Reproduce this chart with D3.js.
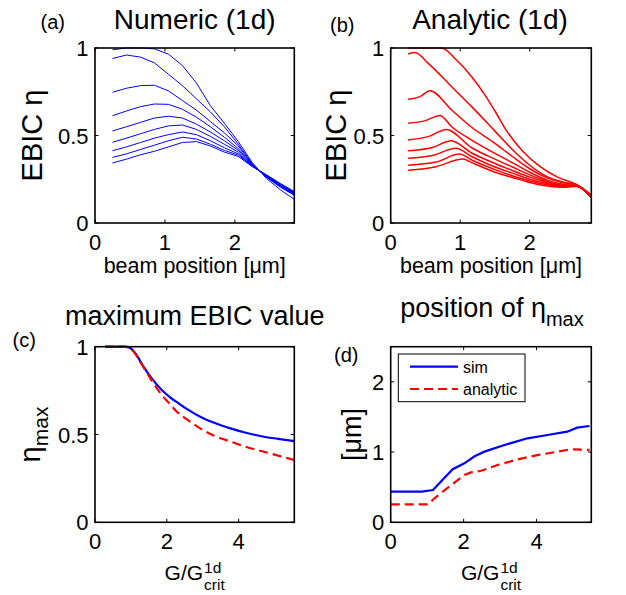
<!DOCTYPE html>
<html><head><meta charset="utf-8">
<script src="https://cdn.jsdelivr.net/npm/d3@7"></script>
<style>
body{margin:0;background:#fff}
text{font-family:"Liberation Sans",Arial,Helvetica,sans-serif;fill:#000}
</style>
</head><body>
<svg id="fig" width="626" height="595" xmlns="http://www.w3.org/2000/svg"></svg>
<script>
// ---------------- DATA ----------------
// (a) Numeric (1d): beam position [um] grid and 9 EBIC curves
const numericX = [0.25,0.45,0.65,0.85,1.05,1.25,1.45,1.65,1.85,2.05,2.25,2.45,2.65,2.85];
const numericCurves = [
  [0.99,1.00,1.00,0.995,0.965,0.90,0.80,0.67,0.57,0.465,0.345,0.255,0.19,0.135],
  [0.94,0.96,0.948,0.915,0.85,0.785,0.71,0.635,0.55,0.45,0.338,0.262,0.205,0.158],
  [0.747,0.77,0.785,0.787,0.755,0.70,0.645,0.58,0.515,0.44,0.335,0.264,0.208,0.161],
  [0.613,0.64,0.665,0.68,0.678,0.65,0.605,0.55,0.49,0.425,0.332,0.266,0.211,0.164],
  [0.526,0.55,0.575,0.60,0.61,0.60,0.565,0.52,0.47,0.415,0.330,0.268,0.214,0.167],
  [0.461,0.485,0.51,0.535,0.555,0.56,0.535,0.495,0.45,0.405,0.328,0.270,0.217,0.170],
  [0.413,0.435,0.46,0.485,0.505,0.52,0.505,0.47,0.43,0.395,0.326,0.272,0.220,0.173],
  [0.375,0.395,0.42,0.445,0.47,0.49,0.48,0.45,0.415,0.388,0.324,0.274,0.223,0.176],
  [0.343,0.365,0.39,0.41,0.435,0.46,0.465,0.44,0.405,0.38,0.322,0.276,0.226,0.180]
];
// (b) Analytic (1d): [beam position, eta] per curve
const analyticCurves = [
  [[0.25,1.0],[0.5,1.0],[0.73,1.0],[0.95,0.93],[1.165,0.836],[1.357,0.731],[1.5,0.64],[1.67,0.525],[1.9,0.41],[2.15,0.322],[2.4,0.262],[2.67,0.22],[2.89,0.16]],
  [[0.25,0.966],[0.35,0.974],[0.54,0.912],[0.877,0.779],[1.165,0.665],[1.5,0.525],[1.75,0.42],[2.0,0.33],[2.25,0.265],[2.5,0.232],[2.67,0.22],[2.89,0.148]],
  [[0.25,0.707],[0.42,0.722],[0.565,0.756],[0.877,0.646],[1.165,0.547],[1.5,0.455],[1.75,0.38],[2.0,0.31],[2.25,0.258],[2.5,0.228],[2.67,0.218],[2.89,0.146]],
  [[0.25,0.57],[0.5,0.585],[0.71,0.615],[0.877,0.55],[1.165,0.474],[1.5,0.398],[1.75,0.345],[2.0,0.29],[2.25,0.245],[2.5,0.22],[2.67,0.215],[2.89,0.145]],
  [[0.25,0.474],[0.55,0.495],[0.80,0.535],[1.165,0.43],[1.5,0.365],[1.75,0.32],[2.0,0.275],[2.25,0.238],[2.5,0.216],[2.67,0.213],[2.89,0.145]],
  [[0.25,0.413],[0.6,0.432],[0.87,0.47],[1.165,0.40],[1.5,0.34],[1.75,0.30],[2.0,0.262],[2.25,0.232],[2.5,0.212],[2.67,0.212],[2.89,0.145]],
  [[0.25,0.37],[0.6,0.386],[0.94,0.427],[1.165,0.38],[1.5,0.32],[1.75,0.285],[2.0,0.25],[2.25,0.225],[2.5,0.21],[2.67,0.211],[2.89,0.145]],
  [[0.25,0.33],[0.65,0.348],[0.99,0.394],[1.165,0.36],[1.5,0.305],[1.75,0.27],[2.0,0.24],[2.25,0.218],[2.5,0.207],[2.67,0.21],[2.89,0.145]],
  [[0.25,0.301],[0.65,0.322],[1.04,0.366],[1.165,0.345],[1.5,0.29],[1.75,0.26],[2.0,0.232],[2.25,0.212],[2.5,0.205],[2.67,0.21],[2.89,0.145]]
];
// (c) maximum EBIC value vs G/Gcrit
const simMaxG   = [0.28,0.55,0.85,1.0,1.15,1.35,1.58,1.86,2.1,2.33,2.6,2.93,3.3,3.77,4.2,4.7,5.1,5.55];
const simMaxEta = [1,1,1,0.99,0.955,0.886,0.82,0.753,0.71,0.677,0.64,0.601,0.568,0.535,0.51,0.487,0.475,0.462];
const anaMaxG   = [0.28,0.55,0.8,1.0,1.1,1.3,1.54,1.86,2.1,2.28,2.6,2.93,3.3,3.77,4.2,4.7,5.1,5.55];
const anaMaxEta = [1,1,1,0.985,0.965,0.90,0.82,0.725,0.67,0.63,0.58,0.535,0.495,0.46,0.43,0.402,0.38,0.355];
// (d) position of eta_max vs G/Gcrit
const simPosG = [0,0.3,0.6,0.85,1.16,1.45,1.7,2.02,2.3,2.57,3.12,3.75,4.3,4.84,5.11,5.45];
const simPos  = [0.436,0.436,0.436,0.436,0.46,0.62,0.755,0.84,0.94,1.006,1.1,1.196,1.243,1.29,1.347,1.371];
const anaPosG = [0,0.5,1.03,1.2,1.66,2.02,2.2,2.48,2.93,3.48,4.02,4.57,4.93,5.45];
const anaPos  = [0.256,0.256,0.256,0.342,0.53,0.673,0.71,0.734,0.815,0.896,0.957,1.005,1.04,1.03];
// tick labels
const ticksBeam = [0,1,2];
const ticksEta  = [0,0.5,1];
const ticksG    = [0,2,4];
const ticksPos  = [0,1,2];
const legendLabels = ["sim","analytic"];

// ---------------- DRAW ----------------
const svg = d3.select("#fig");
const BLUE = "#0000ff", RED = "#ff0000";
const FONT_TICK = 22;

function makePanel(o){
  const g = svg.append("g");
  const x = d3.scaleLinear().domain(o.xd).range([o.l, o.r]);
  const y = d3.scaleLinear().domain(o.yd).range([o.b, o.t]);
  const tl = 3.5;
  o.xt.forEach(v=>{
    g.append("line").attr("x1",x(v)).attr("x2",x(v)).attr("y1",o.b).attr("y2",o.b-tl).attr("stroke","#000").attr("stroke-width",1);
    g.append("line").attr("x1",x(v)).attr("x2",x(v)).attr("y1",o.t).attr("y2",o.t+tl).attr("stroke","#000").attr("stroke-width",1);
    g.append("text").attr("x",x(v)).attr("y",o.b+27).attr("text-anchor","middle").attr("font-size",FONT_TICK).text(d3.format("")(v));
  });
  o.yt.forEach(v=>{
    g.append("line").attr("x1",o.l).attr("x2",o.l+tl).attr("y1",y(v)).attr("y2",y(v)).attr("stroke","#000").attr("stroke-width",1);
    g.append("line").attr("x1",o.r).attr("x2",o.r-tl).attr("y1",y(v)).attr("y2",y(v)).attr("stroke","#000").attr("stroke-width",1);
    g.append("text").attr("x",o.l-6.5).attr("y",y(v)+8).attr("text-anchor","end").attr("font-size",FONT_TICK).text(d3.format("")(v));
  });
  const clip = "clip"+Math.round(o.l)+Math.round(o.t);
  svg.append("clipPath").attr("id",clip).append("rect").attr("x",o.l).attr("y",o.t-2).attr("width",o.r-o.l).attr("height",o.b-o.t+2);
  const plot = svg.append("g").attr("clip-path",`url(#${clip})`);
  const box = svg.append("rect").attr("x",o.l).attr("y",o.t).attr("width",o.r-o.l).attr("height",o.b-o.t)
     .attr("fill","none").attr("stroke","#000").attr("stroke-width",1.6);
  return {g, x, y, plot, box};
}

// Panel (a)
const pa = makePanel({l:95,r:294.3,t:48,b:223,xd:[0,2.85],yd:[0,1],xt:ticksBeam,yt:ticksEta});
const lineA = d3.line().x(d=>pa.x(d[0])).y(d=>pa.y(d[1]));
numericCurves.forEach(c=>{
  pa.plot.append("path").attr("d",lineA(numericX.map((xv,i)=>[xv,c[i]])))
    .attr("fill","none").attr("stroke",BLUE).attr("stroke-width",1);
});
// Panel (b)
const pb = makePanel({l:390.7,r:591.3,t:48,b:223,xd:[0,2.886],yd:[0,1],xt:ticksBeam,yt:ticksEta});
const lineB = d3.line().x(d=>pb.x(d[0])).y(d=>pb.y(d[1])).curve(d3.curveMonotoneX);
analyticCurves.forEach(c=>{
  pb.plot.append("path").attr("d",lineB(c))
    .attr("fill","none").attr("stroke",RED).attr("stroke-width",1.5);
});
// Panel (c)
const pc = makePanel({l:95,r:294.3,t:346.7,b:522.3,xd:[0,5.55],yd:[0,1],xt:ticksG,yt:ticksEta});
const lineC = d3.line().x(d=>pc.x(d[0])).y(d=>pc.y(d[1])).curve(d3.curveMonotoneX);
pc.plot.append("path").attr("d",lineC(simMaxG.map((v,i)=>[v,simMaxEta[i]])))
  .attr("fill","none").attr("stroke",BLUE).attr("stroke-width",2.2);
pc.plot.append("path").attr("d",lineC(anaMaxG.map((v,i)=>[v,anaMaxEta[i]])))
  .attr("fill","none").attr("stroke",RED).attr("stroke-width",2.2).attr("stroke-dasharray","9,5");
// Panel (d)
const pd = makePanel({l:390.7,r:591.3,t:346.7,b:522.3,xd:[0,5.5],yd:[0,2.5],xt:ticksG,yt:ticksPos});
const lineD = d3.line().x(d=>pd.x(d[0])).y(d=>pd.y(d[1]));
pd.plot.append("path").attr("d",lineD(simPosG.map((v,i)=>[v,simPos[i]])))
  .attr("fill","none").attr("stroke",BLUE).attr("stroke-width",2.2);
pd.plot.append("path").attr("d",lineD(anaPosG.map((v,i)=>[v,anaPos[i]])))
  .attr("fill","none").attr("stroke",RED).attr("stroke-width",2.2).attr("stroke-dasharray","9,5");
// legend (d)
const lg = svg.append("g");
lg.append("rect").attr("x",398.3).attr("y",354).attr("width",126.7).attr("height",47.7)
  .attr("fill","#fff").attr("stroke","#000").attr("stroke-width",1);
lg.append("line").attr("x1",410).attr("x2",458).attr("y1",366.7).attr("y2",366.7).attr("stroke",BLUE).attr("stroke-width",2.2);
lg.append("line").attr("x1",410).attr("x2",458).attr("y1",389).attr("y2",389).attr("stroke",RED).attr("stroke-width",2.2).attr("stroke-dasharray","9,5");
lg.append("text").attr("x",463).attr("y",372.5).attr("font-size",16).text(legendLabels[0]);
lg.append("text").attr("x",463).attr("y",394.5).attr("font-size",16).text(legendLabels[1]);

// titles
svg.append("text").attr("x",194.7).attr("y",28.5).attr("text-anchor","middle").attr("font-size",28).text("Numeric (1d)");
svg.append("text").attr("x",490).attr("y",28.5).attr("text-anchor","middle").attr("font-size",28).text("Analytic (1d)");
svg.append("text").attr("x",194.7).attr("y",325).attr("text-anchor","middle").attr("font-size",27).text("maximum EBIC value");
const td = svg.append("text").attr("x",492).attr("y",317).attr("text-anchor","middle").attr("font-size",27);
td.append("tspan").text("position of η");
td.append("tspan").attr("font-size",20).attr("dy",9).text("max");

// panel letters
[["(a)",40.5,29],["(b)",330,31.5],["(c)",12.5,346.5],["(d)",334,361.5]].forEach(([t,xx,yy])=>{
  svg.append("text").attr("x",xx).attr("y",yy).attr("font-size",20).text(t);
});

// x labels
svg.append("text").attr("x",194.7).attr("y",273).attr("text-anchor","middle").attr("font-size",21.5).text("beam position [μm]");
svg.append("text").attr("x",491).attr("y",273).attr("text-anchor","middle").attr("font-size",21.5).text("beam position [μm]");
function gLabel(cx){
  const grp = svg.append("g");
  const t1 = grp.append("text").attr("y",580).attr("font-size",21).text("G/G");
  const w1 = t1.node().getComputedTextLength();
  const t2 = grp.append("text").attr("y",572.5).attr("font-size",15.5).text("1d");
  const t3 = grp.append("text").attr("y",590).attr("font-size",15.5).text("crit");
  const w2 = Math.max(t2.node().getComputedTextLength(), t3.node().getComputedTextLength());
  const x0 = cx - (w1 + 1 + w2)/2;
  t1.attr("x",x0); t2.attr("x",x0+w1+1); t3.attr("x",x0+w1+1);
}
gLabel(194.7); gLabel(491);

// y labels
svg.append("text").attr("transform","translate(42,135.5) rotate(-90)").attr("text-anchor","middle").attr("font-size",29).text("EBIC η");
svg.append("text").attr("transform","translate(346,135.5) rotate(-90)").attr("text-anchor","middle").attr("font-size",29).text("EBIC η");
const yc = svg.append("text").attr("transform","translate(40,434.5) rotate(-90)").attr("text-anchor","middle").attr("font-size",29);
yc.append("tspan").text("η");
yc.append("tspan").attr("font-size",21).attr("dy",8).text("max");
svg.append("text").attr("transform","translate(361,434.5) rotate(-90)").attr("text-anchor","middle").attr("font-size",27).text("[μm]");
</script>
</body></html>
